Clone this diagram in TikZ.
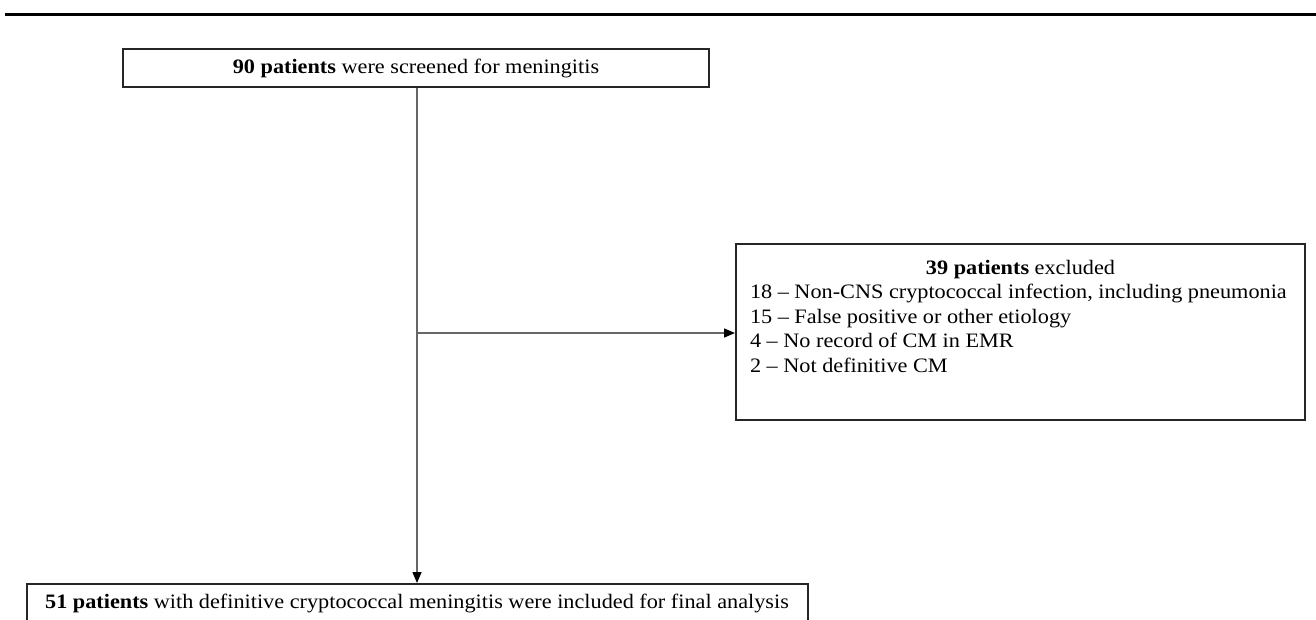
\documentclass[tikz,border=0pt]{standalone}
\usepackage{fontspec}
\setmainfont{Liberation Serif}[FakeStretch=1.085]
\usetikzlibrary{arrows.meta}
\tikzset{
  flowbox/.style={draw=black!85, line width=2pt, inner sep=0pt,
    font=\fontsize{20.5}{24.5}\selectfont},
  flowline/.style={draw=black!60, line width=1.5pt},
  flowarrow/.style={flowline, -{Triangle[length=11pt,width=9pt,color=black]}}
}

\begin{document}
\begin{tikzpicture}[x=1pt,y=-1pt]
	\path[use as bounding box, clip] (0,0) rectangle (1316,619);
	% rule along the top
	\draw[line width=3pt] (5,14) -- (1316,14);
	% boxes
	\node[flowbox, minimum width=586pt, minimum height=38pt] (screen) at (416,68)
		{\textbf{90 patients} were screened for meningitis};
	\node[flowbox, minimum width=569pt, anchor=north west, inner xsep=14pt] (excl) at (735,243)
		{\parbox[t][176pt][t]{541pt}{\rule{0pt}{30pt}\centering\textbf{39 patients} excluded\par
		\raggedright
		18 -- Non-CNS cryptococcal infection, including pneumonia\par
		15 -- False positive or other etiology\par
		4 -- No record of CM in EMR\par
		2 -- Not definitive CM\par}};
	\node[flowbox, minimum width=781pt, minimum height=38pt, anchor=north] (incl) at (417,583)
		{\textbf{51 patients} with definitive cryptococcal meningitis were included for final analysis};
	% connectors
	\coordinate (split) at (417,333);
	\draw[flowarrow] (screen.south -| split) -- (split |- incl.north);
	\draw[flowarrow] (split) -- (split -| excl.west);
\end{tikzpicture}
\end{document}
